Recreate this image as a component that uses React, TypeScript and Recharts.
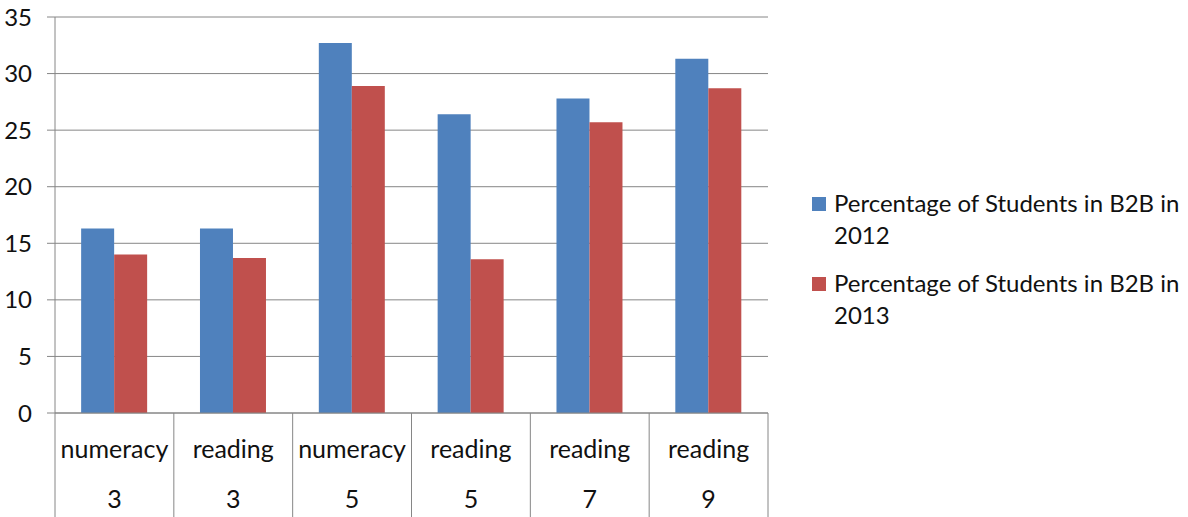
import React from 'react';
import { BarChart, Bar, XAxis, YAxis, CartesianGrid, Legend } from 'recharts';

const subjects = ['numeracy', 'reading', 'numeracy', 'reading', 'reading', 'reading'];
const grades = ['3', '3', '5', '5', '7', '9'];
const pct2012 = [16.3, 16.3, 32.7, 26.4, 27.8, 31.3];
const pct2013 = [14.0, 13.7, 28.9, 13.6, 25.7, 28.7];
const yTicks = [0, 5, 10, 15, 20, 25, 30, 35];

const seriesName2012 = 'Percentage of Students in B2B in 2012';
const seriesName2013 = 'Percentage of Students in B2B in 2013';

const data = subjects.map((s, i) => ({
  key: `${s}-${grades[i]}-${i}`,
  subject: s,
  grade: grades[i],
  y2012: pct2012[i],
  y2013: pct2013[i],
}));

const FONT = 'Lato, "Open Sans", sans-serif';
const TEXT = '#111111';
const GRID = '#868686';
const BLUE = '#4F81BD';
const RED = '#C0504D';

const XTick = (props: any) => {
  const { x, y, index, width } = props;
  const n = subjects.length;
  const band = (width || 713) / n;
  const half = band / 2;
  const isLast = index === n - 1;
  return (
    <g>
      <line x1={x - half} x2={x - half} y1={y} y2={y + 110} stroke={GRID} strokeWidth={1} />
      {isLast && <line x1={x + half} x2={x + half} y1={y} y2={y + 110} stroke={GRID} strokeWidth={1} />}
      <text x={x} y={y + 45} textAnchor="middle" fontFamily={FONT} fontSize={25} fill={TEXT}>
        {subjects[index]}
      </text>
      <text x={x} y={y + 95} textAnchor="middle" fontFamily={FONT} fontSize={25} fill={TEXT}>
        {grades[index]}
      </text>
    </g>
  );
};

const LegendContent = (props: any) => {
  const { payload } = props;
  return (
    <div style={{ fontFamily: FONT, fontSize: 24, color: TEXT }}>
      {(payload || []).map((entry: any, i: number) => (
        <div key={i} style={{ display: 'flex', alignItems: 'flex-start', marginBottom: 16 }}>
          <span
            style={{
              width: 14,
              height: 14,
              background: entry.color,
              marginTop: 10,
              marginRight: 8,
              flex: 'none',
              display: 'inline-block',
            }}
          />
          <span style={{ lineHeight: '32px', width: 354, flex: 'none' }}>{entry.value}</span>
        </div>
      ))}
    </div>
  );
};

export default function App() {
  return (
    <div style={{ position: 'absolute', left: 0, top: 0, width: 1188, height: 517, background: '#fff' }}>
      <BarChart
        width={1188}
        height={517}
        data={data}
        margin={{ top: 17, right: 44, bottom: 0, left: 0 }}
        barCategoryGap="22%"
        barGap={0}
      >
        <CartesianGrid vertical={false} stroke={GRID} strokeWidth={1} />
        <XAxis
          dataKey="key"
          height={104}
          tickLine={false}
          tickSize={0}
          tickMargin={0}
          axisLine={{ stroke: GRID }}
          tick={<XTick />}
          interval={0}
        />
        <YAxis
          width={55}
          domain={[0, 35]}
          ticks={yTicks}
          interval={0}
          tickSize={8}
          tickMargin={15}
          tickLine={{ stroke: GRID }}
          axisLine={{ stroke: GRID }}
          tick={{ fontFamily: FONT, fontSize: 24, fill: TEXT }}
        />
        <Legend
          layout="vertical"
          align="right"
          verticalAlign="middle"
          content={<LegendContent />}
          wrapperStyle={{ left: 812, top: 187, right: 'auto', width: 376 }}
        />
        <Bar dataKey="y2012" name={seriesName2012} fill={BLUE} isAnimationActive={false} />
        <Bar dataKey="y2013" name={seriesName2013} fill={RED} isAnimationActive={false} />
      </BarChart>
    </div>
  );
}
